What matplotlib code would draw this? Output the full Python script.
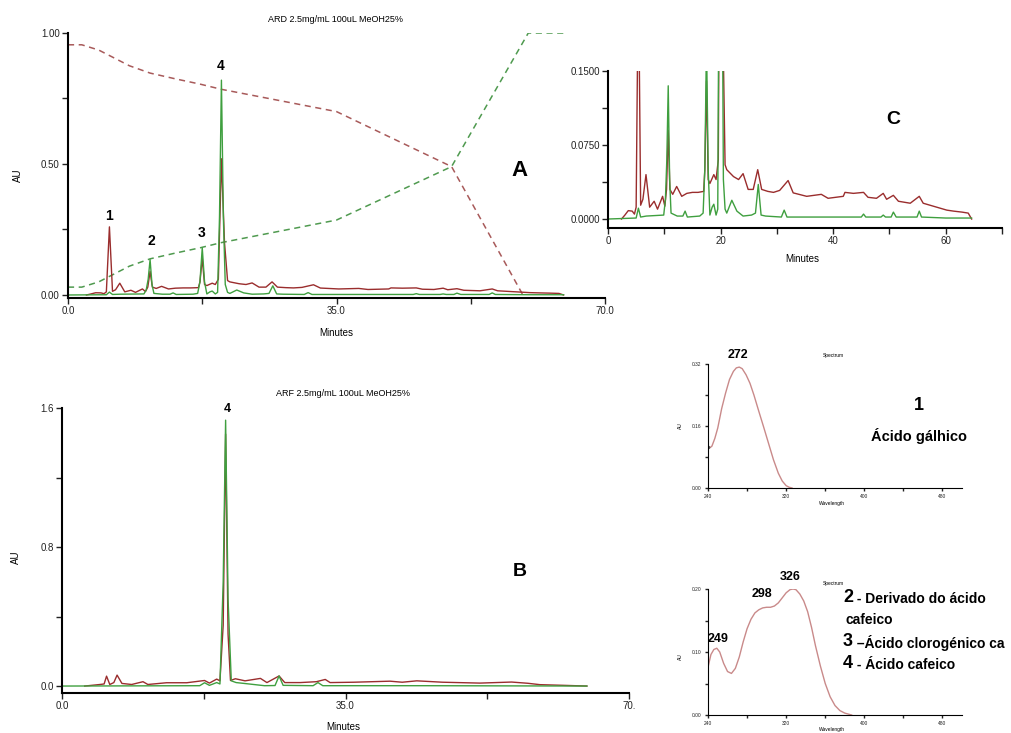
import numpy as np
import matplotlib
matplotlib.use('Agg')
import matplotlib.pyplot as plt

# fonts
plt.rcParams['font.family'] = ['Liberation Sans', 'DejaVu Sans']
narrow = ['Liberation Sans Narrow', 'Liberation Sans', 'DejaVu Sans']

# ---- data ----
# ARD chromatogram (panels A and C): time (min) / AU
ard_red_t = [2.4, 3.0, 3.6, 4.3, 4.7, 5.0, 5.4, 5.8, 6.2, 6.75, 7.4, 8.2, 8.8, 9.7, 10.1,
             10.4, 10.7, 11.0, 11.5, 12.2, 13.1, 14.0, 15.0, 16.0, 17.0, 17.2, 17.5, 17.8, 18.1, 18.8,
             19.2, 19.6, 20.0, 20.4, 20.8, 21.1, 22.3, 23.2, 24.0, 24.9, 25.8, 26.6, 27.3, 28.4, 29.4,
             30.5, 32.0, 32.9, 35.3, 37.9, 39.1, 41.8, 42.1, 43.6, 45.4, 46.2, 47.7, 48.9, 49.5, 50.7,
             51.6, 53.7, 55.3, 56.0, 58.4, 60.2, 61.4, 62.9, 64.0, 64.6]
ard_red = [0.0, 0.004, 0.0085, 0.008, 0.005, 0.012, 0.26, 0.014, 0.02, 0.045, 0.012, 0.018, 0.010, 0.023, 0.013,
           0.03, 0.09, 0.03, 0.025, 0.033, 0.023, 0.026, 0.027, 0.027, 0.028, 0.05, 0.14, 0.04, 0.036, 0.045,
           0.04, 0.06, 0.52, 0.2, 0.055, 0.05, 0.043, 0.04, 0.046, 0.03, 0.03, 0.05, 0.03, 0.028, 0.027,
           0.029, 0.039, 0.0265, 0.023, 0.025, 0.021, 0.023, 0.027, 0.026, 0.027, 0.022, 0.021, 0.026, 0.020, 0.024,
           0.018, 0.016, 0.023, 0.016, 0.012, 0.009, 0.008, 0.007, 0.006, 0.0]
ard_green_t = [0, 5.0, 5.4, 5.8, 6.8, 9.9, 10.2, 10.45, 10.7, 10.95, 11.2, 12.3, 13.3, 13.7, 14.1,
               16.3, 16.9, 17.2, 17.5, 17.8, 18.1, 18.5, 18.8, 19.2, 19.5, 19.75, 20.0, 20.25, 20.5, 20.8,
               21.1, 22.0, 22.9, 24.0, 25.5, 26.2, 26.7, 27.2, 28.0, 30.8, 31.3, 31.8, 40.0, 45.0, 45.4,
               45.8, 48.5, 48.9, 49.3, 50.3, 50.7, 51.2, 54.9, 55.3, 55.7, 60.0, 64.6]
ard_green = [0, 0.001, 0.011, 0.002, 0.003, 0.004, 0.02, 0.06, 0.135, 0.04, 0.006, 0.003, 0.003, 0.008, 0.002,
             0.003, 0.006, 0.05, 0.18, 0.05, 0.004, 0.012, 0.015, 0.004, 0.01, 0.3, 0.82, 0.3, 0.04, 0.01,
             0.006, 0.019, 0.008, 0.003, 0.004, 0.006, 0.035, 0.004, 0.003, 0.002, 0.009, 0.002, 0.002, 0.002, 0.005,
             0.002, 0.002, 0.004, 0.002, 0.002, 0.007, 0.002, 0.002, 0.008, 0.002, 0.001, 0.001]

# gradient profile (dashed lines in panel A)
grad_red_t = [0, 1.8, 4, 6, 8, 10.7, 14, 17.2, 20, 35, 50, 59.3]
grad_red = [0.955, 0.955, 0.935, 0.905, 0.875, 0.847, 0.825, 0.805, 0.785, 0.70, 0.49, 0.0]
grad_green_t = [0, 1.8, 4, 6, 8, 10.7, 14, 17.2, 20, 35, 50, 60, 65]
grad_green = [0.03, 0.03, 0.05, 0.08, 0.11, 0.138, 0.16, 0.18, 0.2, 0.286, 0.49, 1.0, 1.0]

# ARF chromatogram (panel B)
arf_red_t = [2.8, 4.7, 5.2, 5.5, 5.9, 6.4, 6.8, 7.4, 8.6, 10.0, 10.6, 12.9, 15.4, 17.6, 18.2,
             19.1, 19.5, 19.9, 20.2, 20.5, 20.8, 21.4, 22.6, 24.5, 25.3, 26.8, 27.5, 29.4, 31.4, 32.5,
             33.1, 36.0, 40.5, 42.0, 43.8, 47.0, 51.6, 55.5, 57.5, 59.0, 62.0, 64.8]
arf_red = [0.0, 0.009, 0.012, 0.057, 0.009, 0.02, 0.063, 0.015, 0.009, 0.025, 0.009, 0.019, 0.019, 0.032, 0.017,
           0.04, 0.03, 0.35, 1.45, 0.3, 0.032, 0.042, 0.03, 0.044, 0.02, 0.058, 0.02, 0.02, 0.025, 0.038,
           0.02, 0.022, 0.028, 0.022, 0.03, 0.022, 0.017, 0.023, 0.016, 0.008, 0.004, 0.0]
arf_green_t = [0, 17.0, 17.6, 18.2, 19.1, 19.5, 19.9, 20.2, 20.5, 20.9, 21.5, 22.5, 25.0, 26.3, 26.8,
               27.3, 31.0, 31.6, 32.2, 45.0, 64.8]
arf_green = [0, 0.002, 0.019, 0.004, 0.02, 0.012, 0.6, 1.53, 0.5, 0.03, 0.02, 0.015, 0.002, 0.003, 0.058,
             0.004, 0.002, 0.02, 0.002, 0.002, 0.0]

# UV spectra
spec1_nm = [240, 242, 244, 247, 250, 254, 258, 262, 266, 269, 272, 275, 279, 283, 287,
            292, 297, 302, 307, 312, 316, 320, 323, 326]
spec1_au = [0.105, 0.104, 0.108, 0.128, 0.155, 0.205, 0.245, 0.280, 0.301, 0.310, 0.312, 0.308, 0.292, 0.270, 0.240,
            0.198, 0.157, 0.115, 0.073, 0.038, 0.018, 0.006, 0.002, 0.0]
spec2_nm = [240, 243, 246, 249, 252, 256, 260, 264, 268, 272, 276, 280, 284, 288, 292,
            296, 300, 304, 308, 312, 316, 320, 324, 327, 330, 334, 338, 342, 346, 350,
            355, 360, 365, 370, 375, 380, 387]
spec2_au = [0.0757, 0.096, 0.104, 0.106, 0.100, 0.082, 0.069, 0.066, 0.074, 0.092, 0.116, 0.137, 0.152, 0.162, 0.167,
            0.170, 0.171, 0.171, 0.173, 0.178, 0.186, 0.194, 0.199, 0.200, 0.199, 0.192, 0.181, 0.164, 0.139, 0.110,
            0.078, 0.050, 0.029, 0.015, 0.007, 0.003, 0.0]

red_c = '#9a2d2d'
green_c = '#3f9f3f'

W, H = 1011, 733
fig = plt.figure(figsize=(W / 100, H / 100), dpi=100)


def box(x0, y0, x1, y1):
    # axes from pixel box (top-left origin)
    return fig.add_axes([x0 / W, 1 - y1 / H, (x1 - x0) / W, (y1 - y0) / H])


def txt(x, y, s, **kw):
    fig.text(x / W, 1 - y / H, s, **kw)


def style(ax, lw=1.5, tl=4, fs=7):
    ax.spines['top'].set_visible(False)
    ax.spines['right'].set_visible(False)
    ax.spines['left'].set_linewidth(lw)
    ax.spines['bottom'].set_linewidth(lw)
    ax.tick_params(direction='out', length=tl, width=1, labelsize=fs, colors='#222222', pad=2)
    ax.patch.set_alpha(0)


# ---- Panel A ----
axA = box(68, 33, 605, 298)
axA.plot(grad_red_t, grad_red, color='#a85a5a', lw=1.1, dashes=(4, 3))
axA.plot(grad_green_t, grad_green, color='#4f9a4f', lw=1.1, dashes=(4, 3))
axA.plot(ard_red_t, ard_red, color=red_c, lw=1.0)
axA.plot(ard_green_t, ard_green, color=green_c, lw=1.0)
axA.set_xlim(0, 70)
axA.set_ylim(-0.0115, 1.0)
axA.set_xticks([0, 17.5, 35, 52.5, 70])
axA.set_xticklabels(['0.0', '', '35.0', '', '70.0'])
axA.set_yticks([0, 0.25, 0.5, 0.75, 1.0])
axA.set_yticklabels(['0.00', '', '0.50', '', '1.00'])
style(axA)
txt(336, 19, 'ARD 2.5mg/mL 100uL MeOH25%', fontsize=6.5, ha='center', va='center')
txt(336, 333, 'Minutes', fontsize=7, ha='center', va='center')
txt(18, 175, 'AU', fontsize=7, ha='center', va='center', rotation=90)
for lab, x, y in [('1', 109, 216), ('2', 151, 241), ('3', 202, 233), ('4', 221, 66)]:
    txt(x, y, lab, fontsize=10, fontweight='bold', ha='center', va='center')
txt(520, 170, 'A', fontsize=16, fontweight='bold', ha='center', va='center')

# ---- Panel C (zoom of A) ----
axC = box(608, 71, 1002, 228)
axC.plot(ard_red_t, ard_red, color=red_c, lw=1.0)
axC.plot(ard_green_t, ard_green, color=green_c, lw=1.0)
axC.set_xlim(0, 70)
axC.set_ylim(-0.0091, 0.15)
axC.set_xticks(range(0, 71, 10))
axC.set_xticklabels(['0', '', '20', '', '40', '', '60', ''])
axC.set_yticks([0, 0.0375, 0.075, 0.1125, 0.15])
axC.set_yticklabels(['0.0000', '', '0.0750', '', '0.1500'])
style(axC)
txt(802, 259, 'Minutes', fontsize=7, ha='center', va='center')
txt(893, 119, 'C', fontsize=14, fontweight='bold', ha='center', va='center')

# ---- Panel B ----
axB = box(62, 408, 629, 693)
axB.plot(arf_red_t, arf_red, color=red_c, lw=1.0)
axB.plot(arf_green_t, arf_green, color=green_c, lw=1.0)
axB.set_xlim(0, 70)
axB.set_ylim(-0.04, 1.6)
axB.set_xticks([0, 17.5, 35, 52.5, 70])
axB.set_xticklabels(['0.0', '', '35.0', '', '70.'])
axB.set_yticks([0, 0.4, 0.8, 1.2, 1.6])
axB.set_yticklabels(['0.0', '', '0.8', '', '1.6'])
style(axB)
txt(343, 394, 'ARF 2.5mg/mL 100uL MeOH25%', fontsize=6.5, ha='center', va='center')
txt(343, 727, 'Minutes', fontsize=7, ha='center', va='center')
txt(16, 557, 'AU', fontsize=7, ha='center', va='center', rotation=90)
txt(227, 409, '4', fontsize=9, fontweight='bold', ha='center', va='center')
txt(520, 572, 'B', fontsize=14, fontweight='bold', ha='center', va='center')

# ---- UV spectrum of peak 1 ----
axS1 = box(708, 364, 962, 488)
axS1.plot(spec1_nm, spec1_au, color='#c98a8a', lw=1.0)
axS1.plot(spec1_nm[0], spec1_au[0], 'o', color='#555555', ms=1.5)
axS1.set_xlim(240, 500)
axS1.set_ylim(0, 0.32)
axS1.set_xticks(range(240, 481, 40))
axS1.set_xticklabels(['240', '', '320', '', '400', '', '480'])
axS1.set_yticks([0, 0.08, 0.16, 0.24, 0.32])
axS1.set_yticklabels(['0.00', '', '0.16', '', '0.32'])
style(axS1, lw=0.8, tl=2.5, fs=3.5)
txt(833, 356, 'Spectrum', fontsize=3.5, ha='center', va='center')
txt(832, 504, 'Wavelength', fontsize=3.5, ha='center', va='center')
txt(680, 426, 'AU', fontsize=3.5, ha='center', va='center', rotation=90)
txt(738, 355, '272', fontsize=9, fontweight='bold', ha='center', va='center', family=narrow)
txt(919, 405, '1', fontsize=13, fontweight='bold', ha='center', va='center', family=narrow)
txt(919, 436, 'Ácido gálhico', fontsize=10.5, fontweight='bold', ha='center', va='center', family=narrow)

# ---- UV spectrum of peaks 2-4 ----
axS2 = box(708, 589, 962, 715)
axS2.plot(spec2_nm, spec2_au, color='#c98a8a', lw=1.0)
axS2.set_xlim(240, 500)
axS2.set_ylim(0, 0.20)
axS2.set_xticks(range(240, 481, 40))
axS2.set_xticklabels(['240', '', '320', '', '400', '', '480'])
axS2.set_yticks([0, 0.05, 0.10, 0.15, 0.20])
axS2.set_yticklabels(['0.00', '', '0.10', '', '0.20'])
style(axS2, lw=0.8, tl=2.5, fs=3.5)
txt(833, 583, 'Spectrum', fontsize=3.5, ha='center', va='center')
txt(832, 730, 'Wavelength', fontsize=3.5, ha='center', va='center')
txt(680, 657, 'AU', fontsize=3.5, ha='center', va='center', rotation=90)
txt(790, 577, '326', fontsize=9, fontweight='bold', ha='center', va='center', family=narrow)
txt(762, 594, '298', fontsize=9, fontweight='bold', ha='center', va='center', family=narrow)
txt(718, 639, '249', fontsize=9, fontweight='bold', ha='center', va='center', family=narrow)

# compound list
for num, rest, y in [('2', ' - Derivado do ácido', 598), ('3', ' –Ácido clorogénico ca', 642),
                     ('4', ' - Ácido cafeico', 664)]:
    txt(843, y, num, fontsize=13, fontweight='bold', ha='left', va='center', family=narrow)
    txt(853, y + 1, rest, fontsize=10, fontweight='bold', ha='left', va='center', family=narrow)
txt(845, 620, 'cafeico', fontsize=10, fontweight='bold', ha='left', va='center', family=narrow)

fig.savefig('out.png', dpi=100)
